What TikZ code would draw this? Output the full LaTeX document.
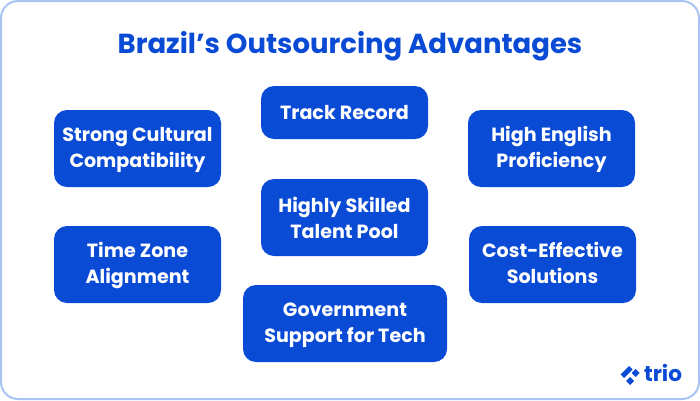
\documentclass[tikz,border=0pt]{standalone}
\usepackage{fontspec}
\setmainfont{Poppins}
\usepackage{tikz}
\definecolor{trioblue}{HTML}{0A4BD6}
\definecolor{frameblue}{HTML}{A9C5F3}
\tikzset{
	advantage/.style={draw=none,fill=trioblue,text=white,rounded corners=13pt,align=center,font=\fontsize{19.1}{25.2}\selectfont\bfseries,inner sep=0pt,minimum width=167pt,minimum height=77pt,text height=43pt,text depth=6pt},
	logomark/.style={fill=trioblue,draw=none}
}

\begin{document}
\begin{tikzpicture}[x=1pt,y=-1pt]
	\useasboundingbox (0,0) rectangle (700,400);
	\fill[white] (0,0) rectangle (700,400);
	\node[draw=frameblue,line width=2pt,rounded corners=17pt,minimum width=698pt,minimum height=398pt,inner sep=0pt] (frame) at (350,200) {};

	\node[text=trioblue,font=\fontsize{27.5}{32}\selectfont\bfseries] (title) at (350,46) {Brazil’s Outsourcing Advantages};

	\node[advantage] (culture) at (137.5,148.5) {Strong Cultural\\Compatibility};
	\node[advantage,minimum height=53pt,text height=19pt] (record) at (344.5,112.5) {Track Record};
	\node[advantage] (english) at (551.5,148.5) {High English\\Proficiency};
	\node[advantage,text height=47pt] (talent) at (344.5,217.5) {Highly Skilled\\Talent Pool};
	\node[advantage] (timezone) at (137.5,264.5) {Time Zone\\Alignment};
	\node[advantage] (cost) at (552.5,264.5) {Cost-Effective\\Solutions};
	\node[advantage,minimum width=204pt] (government) at (345,323.5) {Government\\Support for Tech};

	% logo
	\fill[logomark] (620.5,374.5) -- (629,366) -- (632.5,369.5) -- (624,378) -- cycle;
	\fill[logomark] (635.5,369) -- (639.5,373) -- (635.5,377) -- (631.5,373) -- cycle;
	\fill[logomark] (630,377) -- (634,381) -- (630,385) -- (626,381) -- cycle;
	\node[text=trioblue,font=\fontsize{21.5}{22}\selectfont\bfseries,inner sep=0pt] (logo) at (663,373) {trio};
\end{tikzpicture}
\end{document}
